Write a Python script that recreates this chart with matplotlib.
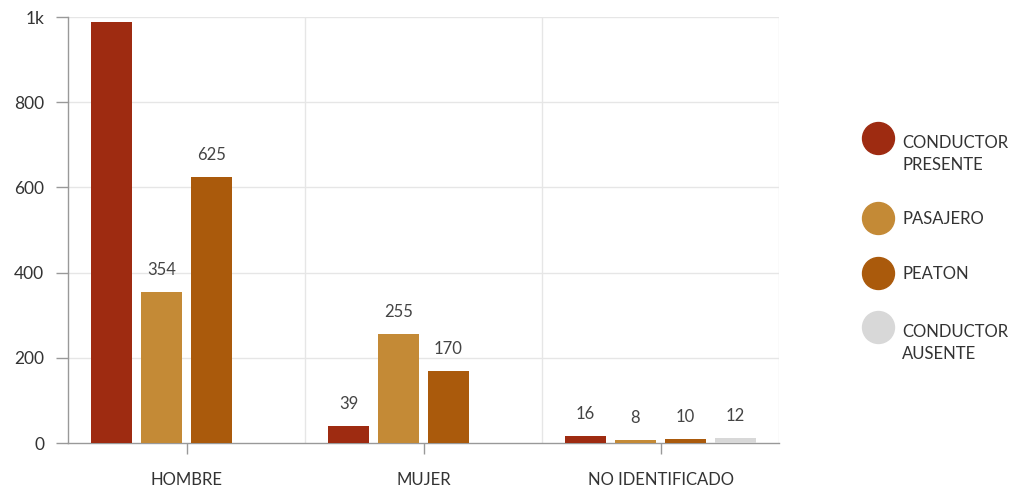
import numpy as np
import matplotlib
matplotlib.use('Agg')
import matplotlib.pyplot as plt
from matplotlib.lines import Line2D

plt.rcParams['font.family'] = ['Lato', 'DejaVu Sans']

# Data
groups = ['HOMBRE', 'MUJER', 'NO IDENTIFICADO']
series = ['CONDUCTOR\nPRESENTE', 'PASAJERO', 'PEATON', 'CONDUCTOR\nAUSENTE']
conductor_presente = [988, 39, 16]
pasajero = [354, 255, 8]
peaton = [625, 170, 10]
conductor_ausente = [np.nan, np.nan, 12]
values = [conductor_presente, pasajero, peaton, conductor_ausente]
colors = ['#9e2b11', '#c48a36', '#aa5a0c', '#d8d8d8']

yticks = [0, 200, 400, 600, 800, 1000]
yticklabels = ['0', '200', '400', '600', '800', '1k']

fig = plt.figure(figsize=(10.21, 4.92), dpi=100, facecolor='white')
ax = fig.add_axes([68 / 1021, 49 / 492, 711 / 1021, 426 / 492])

x = np.arange(len(groups))
step = 0.211
width = 0.177
for i, (vals, col) in enumerate(zip(values, colors)):
    pos = x + (i - 1.5) * step
    ax.bar(pos, vals, width, color=col, zorder=3)
    for p, v in zip(pos, vals):
        # no room above the tallest bar, the reference shows no label there
        if np.isnan(v) or v > 900:
            continue
        ax.annotate(f'{v:g}', (p, v), xytext=(0, 10), textcoords='offset points',
                    ha='center', va='bottom', fontsize=12, color='#444444')

ax.set_xlim(-0.5, 2.5)
ax.set_ylim(0, 1000)
ax.set_xticks(x)
ax.set_xticklabels(groups, fontsize=12, color='#333333')
ax.set_yticks(yticks)
ax.set_yticklabels(yticklabels, fontsize=12.5, color='#333333')

# grid
for yv in yticks[1:]:
    ax.axhline(yv, color='#e6e6e6', lw=1, zorder=1)
for xv in [0.5, 1.5, 2.5]:
    ax.axvline(xv, color='#e6e6e6', lw=1, zorder=1)

for s in ('top', 'right'):
    ax.spines[s].set_visible(False)
for s in ('left', 'bottom'):
    ax.spines[s].set_color('#999999')
    ax.spines[s].set_linewidth(1)
ax.tick_params(axis='y', length=9, width=1, color='#999999', pad=8)
ax.tick_params(axis='x', length=8, width=1, color='#999999', pad=13)

# legend, drawn by hand (entries are not evenly spaced)
leg_y = [138, 218, 273, 327]
for lab, col, yy in zip(series, colors, leg_y):
    yf = 1 - yy / 492
    fig.add_artist(Line2D([878 / 1021], [yf], transform=fig.transFigure,
                          marker='o', markersize=23, ls='none',
                          markerfacecolor=col, markeredgecolor=col))
    lines = lab.split('\n')
    for k, line in enumerate(lines):
        ty = yy + 5 + k * 22 if len(lines) > 1 else yy + 1
        fig.text(902 / 1021, 1 - ty / 492, line, fontsize=12, color='#333333',
                 ha='left', va='center')

fig.savefig('out.png', dpi=100)
